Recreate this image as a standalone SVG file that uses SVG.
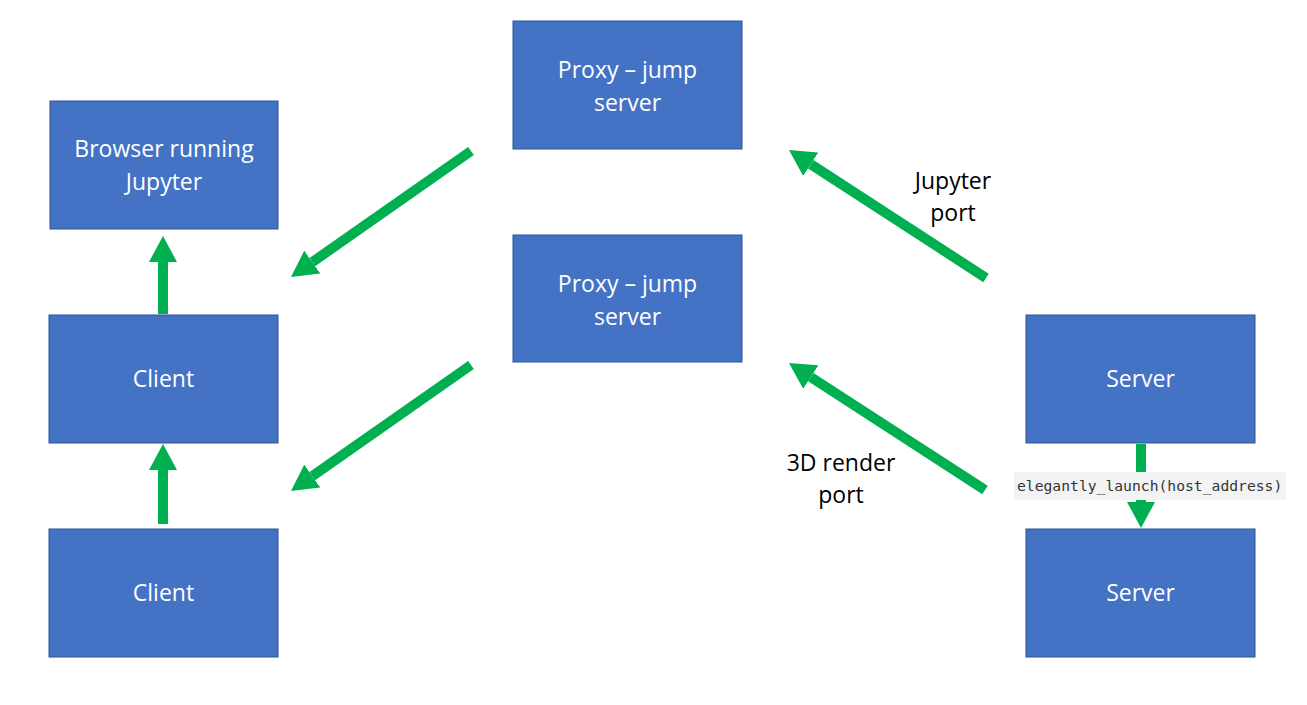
<svg xmlns="http://www.w3.org/2000/svg" width="1307" height="705" viewBox="0 0 1307 705">
<style>
.box{fill:#4472C4;stroke:#2F528F;stroke-width:1}
.bt{fill:#FFFFFF;font-family:"Open Sans","Liberation Sans",sans-serif;font-size:23px;text-anchor:middle}
.lt{fill:#000000;font-family:"Open Sans","Liberation Sans",sans-serif;font-size:23px;text-anchor:middle}
.conn{stroke:#00B050;stroke-width:10;fill:none;marker-end:url(#ah)}
.code{fill:#333333;font-family:"DejaVu Sans Mono","Liberation Mono",monospace;font-size:14.7px}
</style>
<defs>
<marker id="ah" markerUnits="userSpaceOnUse" viewBox="0 0 26 28" refX="0" refY="14" markerWidth="26" markerHeight="28" orient="auto">
<path d="M0,0 L26,14 L0,28 z" fill="#00B050"/>
</marker>
</defs>
<rect width="1307" height="705" fill="#FFFFFF"/>
<g id="connectors">
<line class="conn" x1="471" y1="151" x2="312.3" y2="262.1"/>
<line class="conn" x1="471" y1="365" x2="312.3" y2="476.1"/>
<line class="conn" x1="986" y1="278" x2="810.8" y2="164.2"/>
<line class="conn" x1="985" y1="490" x2="810.8" y2="377.1"/>
<line class="conn" x1="163" y1="314" x2="163" y2="262"/>
<line class="conn" x1="163" y1="524" x2="163" y2="470"/>
<line class="conn" x1="1141" y1="444" x2="1141" y2="502"/>
</g>
<g id="browser"><rect class="box" x="50" y="101" width="228" height="128"/><text class="bt" x="164" y="157">Browser running</text><text class="bt" x="164" y="190">Jupyter</text></g>
<g id="proxy1"><rect class="box" x="513" y="21" width="229" height="128"/><text class="bt" x="627.5" y="78">Proxy – jump</text><text class="bt" x="627.5" y="111">server</text></g>
<g id="proxy2"><rect class="box" x="513" y="235" width="229" height="127"/><text class="bt" x="627.5" y="292">Proxy – jump</text><text class="bt" x="627.5" y="325">server</text></g>
<g id="client1"><rect class="box" x="49" y="315" width="229" height="128"/><text class="bt" x="163.5" y="387">Client</text></g>
<g id="client2"><rect class="box" x="49" y="529" width="229" height="128"/><text class="bt" x="163.5" y="601">Client</text></g>
<g id="server1"><rect class="box" x="1026" y="315" width="229" height="128"/><text class="bt" x="1140.5" y="387">Server</text></g>
<g id="server2"><rect class="box" x="1026" y="529" width="229" height="128"/><text class="bt" x="1140.5" y="601">Server</text></g>
<g id="label-jupyter"><text class="lt" x="953" y="189">Jupyter</text><text class="lt" x="953" y="221">port</text></g>
<g id="label-3d"><text class="lt" x="841" y="471">3D render</text><text class="lt" x="841" y="503">port</text></g>
<g id="label-launch"><rect x="1014" y="472" width="272" height="28" fill="#F3F3F3"/><text class="code" x="1017" y="491">elegantly_launch(host_address)</text></g>
</svg>
